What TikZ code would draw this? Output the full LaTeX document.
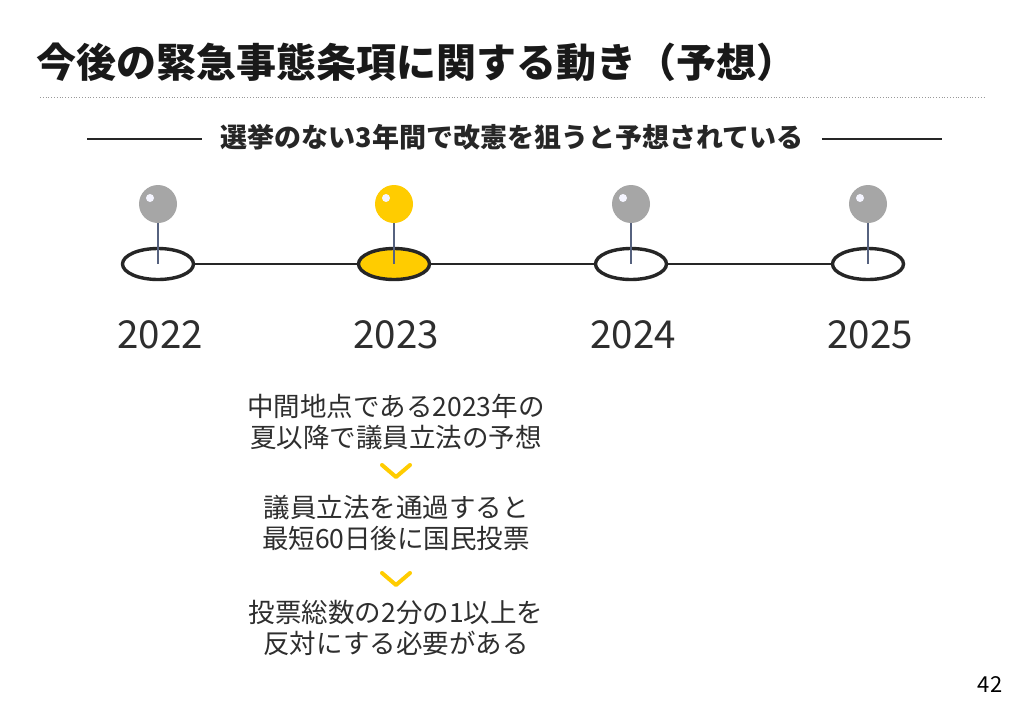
\documentclass[tikz,border=0pt]{standalone}
\usepackage{fontspec}
\setmainfont{Noto Sans CJK JP}
\usepackage{tikz}
\usetikzlibrary{shapes.geometric}

\definecolor{pinyellow}{HTML}{FFCC00}
\definecolor{pingray}{HTML}{A6A6A6}
\definecolor{stick}{HTML}{56627F}
\definecolor{ink}{HTML}{2E2E2E}

\tikzset{
  ring/.style={draw=black!85, line width=3.4pt, ellipse, minimum width=71pt, minimum height=31pt, inner sep=0pt},
  pinhead/.style={circle, minimum size=38pt, inner sep=0pt},
  year/.style={font=\fontsize{38.5}{42}\selectfont, text=ink},
  body/.style={font=\fontsize{26.5}{31}\selectfont, text=ink, align=center},
  chev/.style={draw=pinyellow, line width=4pt, line cap=round, line join=round}
}

\begin{document}
\begin{tikzpicture}[x=1pt, y=-1pt]
  \useasboundingbox[fill=white] (0,0) rectangle (1024,709);

  \node[anchor=west, font=\fontsize{40}{44}\bfseries\selectfont, text=black!90] (title) at (33,62) {今後の緊急事態条項に関する動き（予想）};
  \draw[black!40, dotted, line width=0.8pt] (40,97) -- (985,97);

  \node[font=\fontsize{27}{30}\bfseries\selectfont, text=black!85] (sub) at (512,137) {選挙のない3年間で改憲を狙うと予想されている};
  \coordinate (subl) at (87,139);
  \coordinate (subr) at (942,139);
  \draw[black!85, line width=1.8pt] (subl) -- ([xshift=-15pt]sub.west |- subl);
  \draw[black!85, line width=1.8pt] ([xshift=15pt]sub.east |- subr) -- (subr);

  % timeline
  \node[ring, fill=white] (e1) at (158,264) {};
  \node[ring, fill=pinyellow] (e2) at (394,264) {};
  \node[ring, fill=white] (e3) at (631,264) {};
  \node[ring, fill=white] (e4) at (868,264) {};
  \draw[black!85, line width=2.8pt] (e1.east) -- (e2.west);
  \draw[black!85, line width=2.8pt] (e2.east) -- (e3.west);
  \draw[black!85, line width=2.8pt] (e3.east) -- (e4.west);

  % pins
  \node[pinhead, fill=pingray] (p1) at (158,204) {};
  \node[pinhead, fill=pinyellow] (p2) at (394,204) {};
  \node[pinhead, fill=pingray] (p3) at (631,204) {};
  \node[pinhead, fill=pingray] (p4) at (868,204) {};
  \draw[stick, line width=2.6pt] (p1.south) -- (e1.center);
  \draw[stick, line width=2.6pt] (p2.south) -- (e2.center);
  \draw[stick, line width=2.6pt] (p3.south) -- (e3.center);
  \draw[stick, line width=2.6pt] (p4.south) -- (e4.center);
  \fill[blue!4] (150,198) circle (4pt);
  \fill[blue!4] (386,198) circle (4pt);
  \fill[blue!4] (623,198) circle (4pt);
  \fill[blue!4] (860,198) circle (4pt);

  \node[year] (y1) at (160,335) {2022};
  \node[year] (y2) at (396,335) {2023};
  \node[year] (y3) at (633,335) {2024};
  \node[year] (y4) at (870,335) {2025};

  % steps under 2023
  \node[body] (t1) at (396,422) {中間地点である2023年の\\夏以降で議員立法の予想};
  \node[body] (t2) at (396,523) {議員立法を通過すると\\最短60日後に国民投票};
  \node[body] (t3) at (396,628) {投票総数の2分の1以上を\\反対にする必要がある};
  \coordinate (c1) at (396,477);
  \coordinate (c2) at (396,585);
  \draw[chev] ([shift={(-14,-12)}]c1) -- (c1) -- ([shift={(14,-12)}]c1);
  \draw[chev] ([shift={(-14,-12)}]c2) -- (c2) -- ([shift={(14,-12)}]c2);

  \node[font=\fontsize{22}{24}\selectfont, text=black] (page) at (990,685) {42};
\end{tikzpicture}
\end{document}
